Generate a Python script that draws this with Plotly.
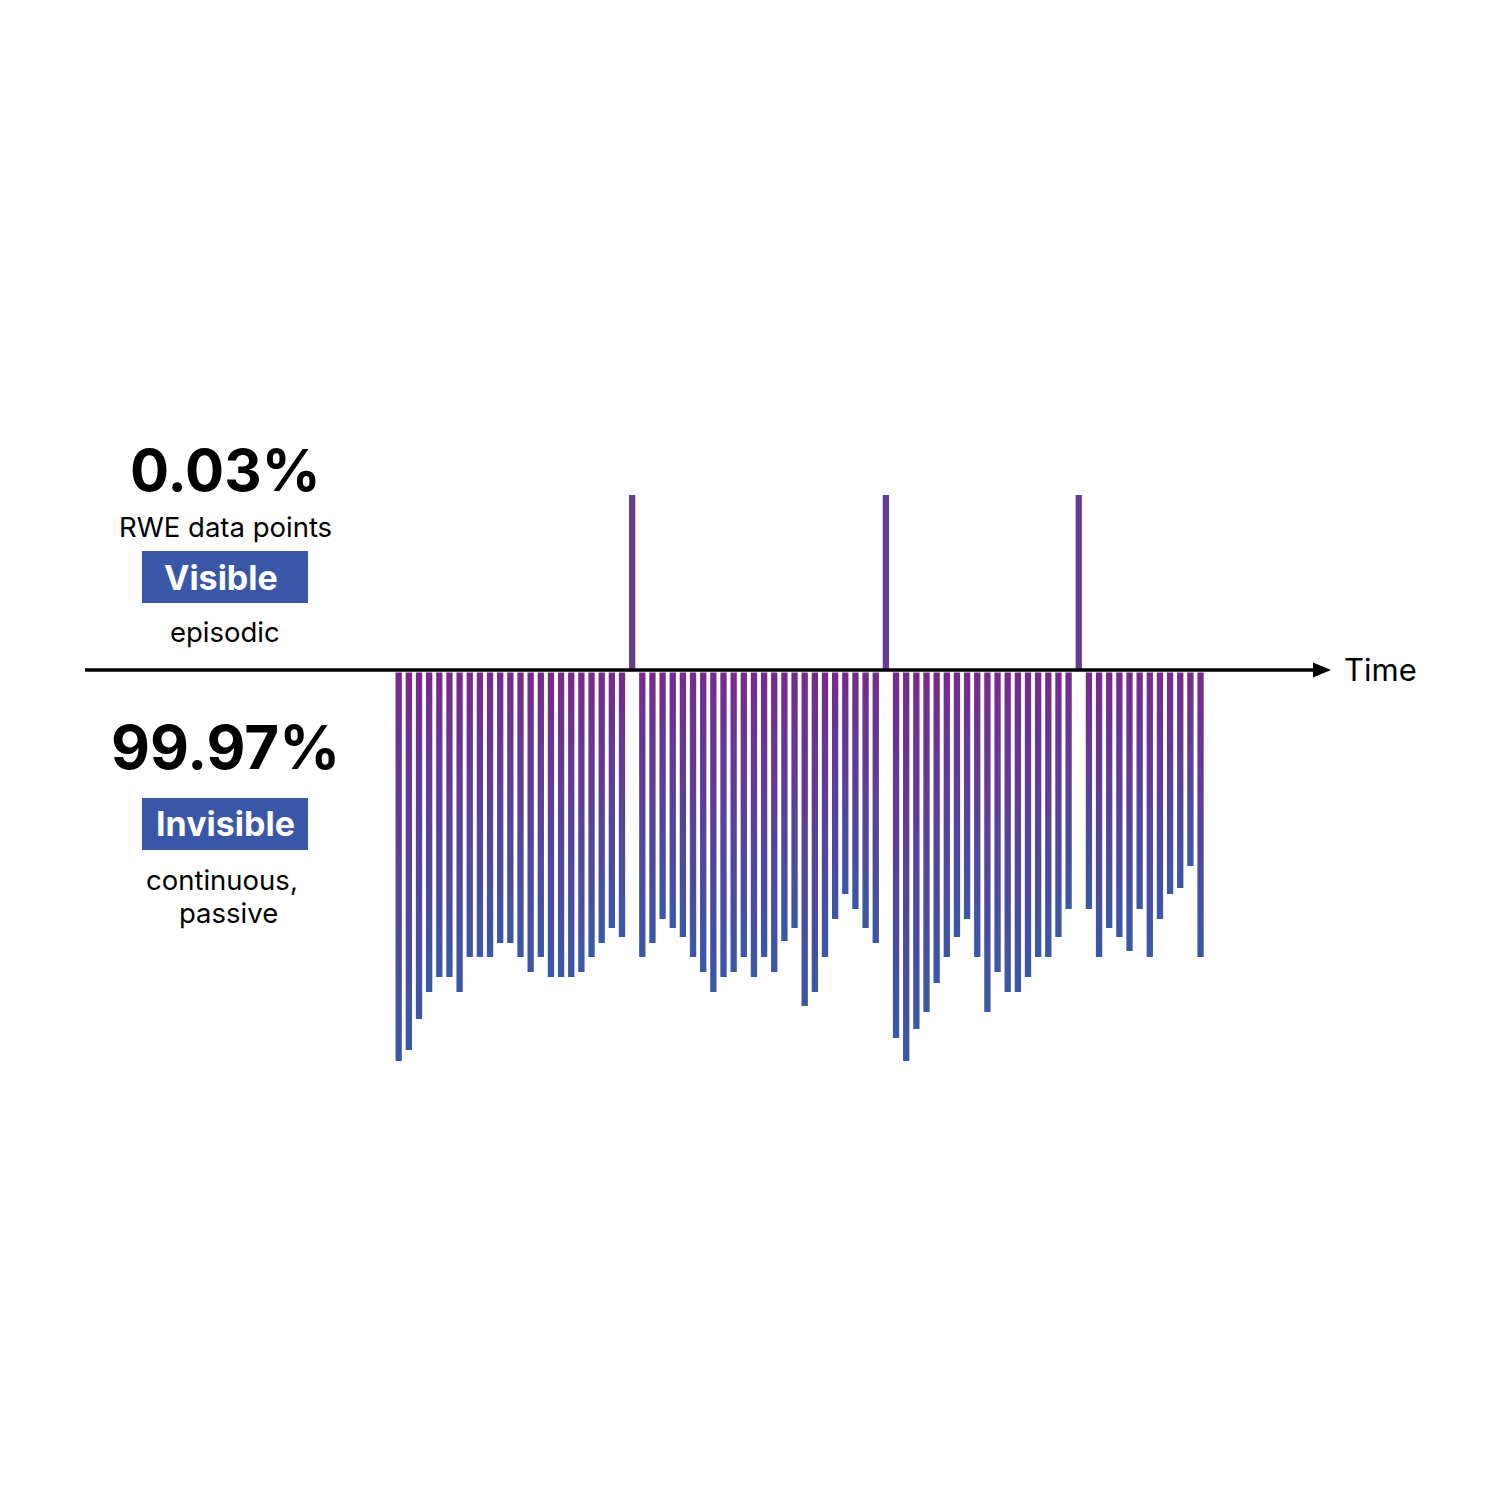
import plotly.graph_objects as go

# ---- data ----
n_slots = 80
visible_slots = [23, 48, 67]
visible_values = [175, 175, 175]
invisible_values = [
    391, 380, 349, 322, 307, 307, 322, 287, 287, 287, 273, 273, 287, 302, 287, 307, 307, 307, 302, 287, 273, 258, 267,
    287, 273, 249, 258, 267, 287, 302, 322, 307, 302, 287, 307, 287, 302, 271, 258, 336, 322, 287, 249, 224, 239, 258, 273,
    368, 391, 359, 342, 313, 287, 267, 249, 287, 342, 302, 322, 322, 307, 287, 287, 267, 239,
    239, 287, 258, 267, 281, 239, 287, 249, 224, 218, 196, 287,
]
invisible_slots = [s for s in range(n_slots) if s not in visible_slots]

TOP = "#782A8C"
BOT = "#3A58A8"
SPIKE = "#673C99"
BOX = "#3A57A7"

W = 1500
OFF = 8  # page body margin
bw = 0.31  # half bar width in slot units
gap = 2.5

fig = go.Figure()

for s, v in zip(invisible_slots, invisible_values):
    y0, y1 = -gap, -v
    fig.add_trace(go.Scatter(
        x=[s - bw, s + bw, s + bw, s - bw, s - bw],
        y=[y0, y0, y1, y1, y0],
        mode="lines", line=dict(width=0), fill="toself",
        fillgradient=dict(type="vertical", colorscale=[[0, BOT], [1, TOP]],
                          start=y1, stop=y0),
        hoverinfo="skip", showlegend=False,
    ))

for s, v in zip(visible_slots, visible_values):
    fig.add_trace(go.Scatter(
        x=[s - bw, s + bw, s + bw, s - bw, s - bw],
        y=[0, 0, v, v, 0],
        mode="lines", line=dict(width=0), fill="toself", fillcolor=SPIKE,
        hoverinfo="skip", showlegend=False,
    ))

def px(x):
    return (x - OFF) / W

def py(y):
    return 1 - (y - OFF) / W

shapes = [
    dict(type="line", xref="paper", yref="paper", x0=px(85), x1=px(1318), y0=py(670), y1=py(670),
         line=dict(color="black", width=3.5)),
    dict(type="path", xref="paper", yref="paper",
         path=f"M {px(1313)} {py(662.5)} L {px(1331)} {py(670)} L {px(1313)} {py(677.5)} Z",
         fillcolor="black", line=dict(width=0)),
    dict(type="rect", xref="paper", yref="paper", x0=px(142), x1=px(308), y0=py(603), y1=py(551),
         fillcolor=BOX, line=dict(width=0)),
    dict(type="rect", xref="paper", yref="paper", x0=px(142), x1=px(308), y0=py(850), y1=py(798),
         fillcolor=BOX, line=dict(width=0)),
]

FONT = "Inter"
def ann(text, x, y, size, color="black", bold=False, xanchor="center"):
    t = f"<b>{text}</b>" if bold else text
    return dict(text=t, x=px(x), y=py(y), xref="paper", yref="paper", showarrow=False,
                xanchor=xanchor, yanchor="middle", align="center",
                font=dict(family=FONT, size=size, color=color))

annotations = [
    ann("0.03%", 225, 470, 58, bold=True),
    ann("RWE data points", 225, 527, 27.5),
    ann("Visible", 221, 577, 34, color="white", bold=True),
    ann("episodic", 225, 632, 27.5),
    ann("99.97%", 225, 747, 60, bold=True),
    ann("Invisible", 225, 823, 34, color="white", bold=True),
    ann("continuous,", 222, 880, 27.5),
    ann("passive", 228, 913, 27.5),
    ann("Time", 1342, 669, 31, xanchor="left"),
]

x0 = 398.7 - OFF
step = 10.15
axis_y = 670 - OFF
fig.update_layout(
    width=W, height=W,
    margin=dict(l=0, r=0, t=0, b=0),
    paper_bgcolor="white", plot_bgcolor="white",
    xaxis=dict(range=[-x0 / step, (W - x0) / step], visible=False, fixedrange=True),
    yaxis=dict(range=[axis_y - W, axis_y], visible=False, fixedrange=True),
    shapes=shapes,
    annotations=annotations,
    showlegend=False,
)

fig.write_html("out.html")
